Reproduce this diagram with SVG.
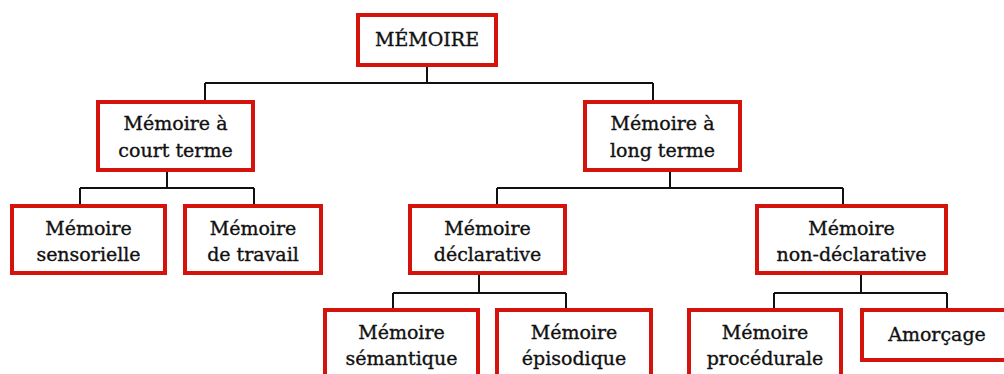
<svg xmlns="http://www.w3.org/2000/svg" width="1004" height="374" viewBox="0 0 1004 374">
<style>
.box{fill:#fff;stroke:#d4140c;stroke-width:4}
.t{font-family:"DejaVu Serif","Liberation Serif",serif;font-size:19px;fill:#111;stroke:#111;stroke-width:0.35;text-anchor:middle}
.c{fill:none;stroke:#111;stroke-width:2}
</style>
<rect width="1004" height="374" fill="#fff"/>
<g id="connectors">
<path class="c" d="M427,67V83 M205,83H653 M205,83V100 M653,83V100"/>
<path class="c" d="M167,172V188 M80,188H254 M80,188V204 M254,188V204"/>
<path class="c" d="M670,172V188 M497,188H843 M497,188V204 M843,188V204"/>
<path class="c" d="M479,275V293 M393,293H566 M393,293V308 M566,293V308"/>
<path class="c" d="M861,275V293 M774,293H947 M774,293V308 M947,293V308"/>
</g>
<g id="memoire"><rect class="box" x="358" y="15" width="138" height="50"/><text class="t" x="427" y="46">MÉMOIRE</text></g>
<g id="court-terme"><rect class="box" x="98" y="102" width="155" height="68"/><text class="t" x="175.5" y="130">Mémoire à</text><text class="t" x="175.5" y="157">court terme</text></g>
<g id="long-terme"><rect class="box" x="585" y="102" width="155" height="68"/><text class="t" x="662.5" y="130">Mémoire à</text><text class="t" x="662.5" y="157">long terme</text></g>
<g id="sensorielle"><rect class="box" x="12" y="206" width="153" height="67"/><text class="t" x="88.5" y="235">Mémoire</text><text class="t" x="88.5" y="261">sensorielle</text></g>
<g id="travail"><rect class="box" x="185" y="206" width="136" height="67"/><text class="t" x="253" y="235">Mémoire</text><text class="t" x="253" y="261">de travail</text></g>
<g id="declarative"><rect class="box" x="410" y="206" width="155" height="67"/><text class="t" x="487.5" y="235">Mémoire</text><text class="t" x="487.5" y="261">déclarative</text></g>
<g id="non-declarative"><rect class="box" x="757" y="206" width="189" height="67"/><text class="t" x="851.5" y="235">Mémoire</text><text class="t" x="851.5" y="261">non-déclarative</text></g>
<g id="semantique"><rect class="box" x="325" y="310" width="153" height="70"/><text class="t" x="401.5" y="339">Mémoire</text><text class="t" x="401.5" y="365">sémantique</text></g>
<g id="episodique"><rect class="box" x="497" y="310" width="154" height="70"/><text class="t" x="574" y="339">Mémoire</text><text class="t" x="574" y="365">épisodique</text></g>
<g id="procedurale"><rect class="box" x="689" y="310" width="152" height="70"/><text class="t" x="765" y="339">Mémoire</text><text class="t" x="765" y="365">procédurale</text></g>
<g id="amorcage"><rect class="box" x="862" y="310" width="150" height="50"/><text class="t" x="937" y="341">Amorçage</text></g>
</svg>
